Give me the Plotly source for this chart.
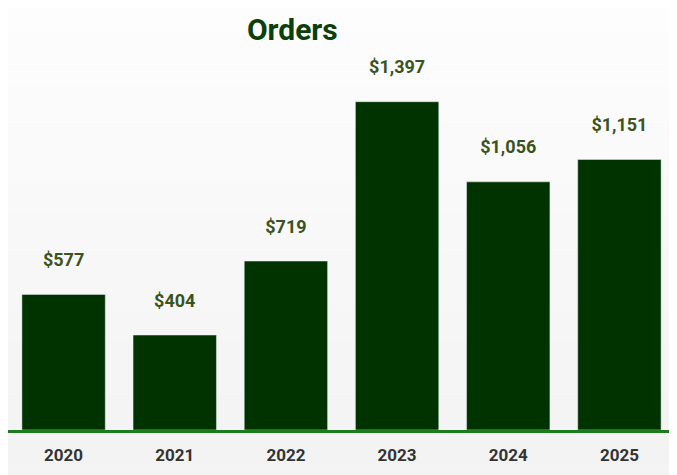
import plotly.graph_objects as go

years = ["2020", "2021", "2022", "2023", "2024", "2025"]
orders = [577, 404, 719, 1397, 1056, 1151]
labels = ["$577", "$404", "$719", "$1,397", "$1,056", "$1,151"]

fig = go.Figure()
fig.add_trace(go.Bar(
    x=years, y=orders, text=labels, textposition="outside",
    texttemplate="<b>%{text}</b><br><span style='font-size:7px'> </span>",
    marker_color="#003300", cliponaxis=False,
    textfont=dict(family="Roboto", size=18, color="#3b5320"),
))

# soft vertical gradient in the background
bands = 30
for i in range(bands):
    g = int(255 - 12 * i / (bands - 1))
    fig.add_shape(type="rect", xref="paper", yref="paper",
                  x0=-0.1, x1=1.1, y0=1.3 - 1.45 * (i + 1) / bands, y1=1.3 - 1.45 * i / bands,
                  fillcolor=f"rgb({g},{g},{g})", line_width=0, layer="below")

fig.update_layout(
    width=677, height=475,
    margin=dict(l=0, r=10, t=46, b=53),
    paper_bgcolor="#f6f6f6", plot_bgcolor="rgba(0,0,0,0)",
    bargap=0.25, showlegend=False,
    title=dict(text="<b>Orders</b>", x=0.42, xanchor="center", y=0.955, yanchor="middle",
               font=dict(family="Roboto", size=30, color="#0a400a")),
    font=dict(family="Roboto"),
)
fig.update_xaxes(showline=True, linecolor="#1d7a1d", linewidth=3,
                 tickfont=dict(size=17, color="#333333", family="Roboto"),
                 tickprefix="<b>", ticksuffix="</b>",
                 ticklabelstandoff=8, showgrid=False)
fig.update_yaxes(visible=False, range=[0, 1600])
fig.write_html("out.html")
